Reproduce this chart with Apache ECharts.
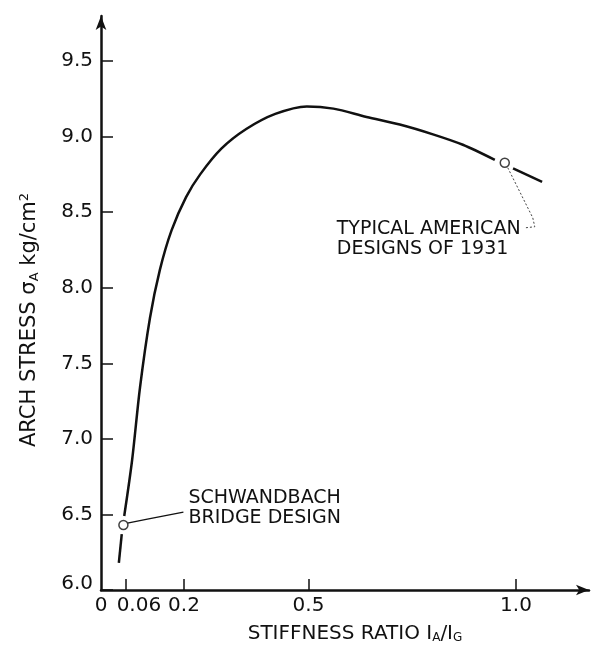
<!DOCTYPE html>
<html>
<head>
<meta charset="utf-8">
<script src="https://cdn.jsdelivr.net/npm/echarts@6/dist/echarts.min.js"></script>
<style>
  html, body { margin: 0; padding: 0; background: #fff; }
  #main { width: 597px; height: 649px; }
</style>
</head>
<body>
<div id="main"></div>
<script>
// values
const xTicks = [0.06, 0.2, 0.5, 1.0];
const xLabels = [0, 0.06, 0.2, 0.5, 1.0];
const yTicks = [6.0, 6.5, 7.0, 7.5, 8.0, 8.5, 9.0, 9.5];

// curve, split where it passes behind the two open circles
const stubPoints = [[0.043, 6.18], [0.050, 6.37]];
const mainPoints = [
  [0.056, 6.49], [0.075, 6.86], [0.094, 7.34], [0.118, 7.80], [0.142, 8.12],
  [0.170, 8.38], [0.205, 8.60], [0.239, 8.75], [0.290, 8.92], [0.350, 9.05],
  [0.420, 9.15], [0.496, 9.20], [0.560, 9.185], [0.640, 9.13], [0.720, 9.08],
  [0.800, 9.015], [0.872, 8.946], [0.949, 8.846]
];
const tailPoints = [[0.993, 8.79], [1.063, 8.70]];
const schwandbach = [0.054, 6.43];
const american = [0.973, 8.827];

const FONT = 'DejaVu Sans';
const INK = '#111';

const chart = echarts.init(document.getElementById('main'));

function lineSeries(data) {
  return {
    type: 'line', data: data, smooth: 0.3,
    showSymbol: false, lineStyle: { color: INK, width: 2.5 }, z: 2
  };
}

chart.setOption({
  animation: false,
  backgroundColor: '#fff',
  grid: { left: 101, right: 8, top: 16, bottom: 58 },
  xAxis: {
    type: 'value', min: 0, max: 1.176,
    splitLine: { show: false },
    axisLine: { lineStyle: { color: INK, width: 2.5 }, symbol: ['none', 'arrow'], symbolSize: [8, 13] },
    axisTick: { inside: true, length: 11, customValues: xTicks, lineStyle: { color: INK, width: 1.5 } },
    axisLabel: {
      customValues: xLabels, color: INK, fontSize: 20, fontFamily: FONT, margin: 6,
      formatter: v => v === 0 ? '0' : (v === 0.06 ? '{sh|0.06}' : v.toFixed(1)),
      rich: { sh: { fontSize: 20, fontFamily: FONT, color: INK, padding: [0, 0, 0, 26] } }
    },
    name: 'STIFFNESS RATIO I{s|A}/I{s|G}',
    nameLocation: 'middle', nameGap: 34,
    nameTextStyle: {
      color: INK, fontSize: 20, fontFamily: FONT, padding: [0, 0, 0, 20],
      rich: { s: { fontSize: 12, fontFamily: FONT, color: INK, verticalAlign: 'bottom', padding: [8, 0, 0, 0] } }
    }
  },
  yAxis: {
    type: 'value', min: 6, max: 9.798,
    splitLine: { show: false },
    axisLine: { lineStyle: { color: INK, width: 2.5 }, symbol: ['none', 'arrow'], symbolSize: [8, 14] },
    axisTick: { inside: true, length: 12, customValues: yTicks, lineStyle: { color: INK, width: 1.5 } },
    axisLabel: {
      customValues: yTicks, color: INK, fontSize: 20, fontFamily: FONT, margin: 8,
      formatter: v => v === 6 ? '{lift|6.0}' : v.toFixed(1),
      rich: { lift: { fontSize: 20, fontFamily: FONT, color: INK, padding: [0, 0, 12, 0] } }
    }
  },
  series: [
    lineSeries(stubPoints),
    lineSeries(mainPoints),
    lineSeries(tailPoints),
    {
      type: 'scatter', data: [schwandbach, american], symbol: 'circle', symbolSize: 9,
      itemStyle: { color: '#fff', borderColor: INK, borderWidth: 1.5 }, z: 3
    }
  ]
});

// annotations, placed relative to the circled points
const p1 = chart.convertToPixel({ gridIndex: 0 }, schwandbach);
const p2 = chart.convertToPixel({ gridIndex: 0 }, american);
const noteStyle = { fontSize: 19, fontFamily: FONT, fill: INK, lineHeight: 20, align: 'left', verticalAlign: 'middle' };

chart.setOption({
  graphic: [
    {
      type: 'polyline', silent: true,
      shape: { points: [[p1[0] + 4, p1[1] - 2], [p1[0] + 24, p1[1] - 6], [p1[0] + 60, p1[1] - 13]] },
      style: { stroke: INK, lineWidth: 1.3, fill: null }
    },
    {
      type: 'text', x: p1[0] + 65, y: p1[1] - 17, silent: true,
      style: Object.assign({ text: 'SCHWANDBACH\nBRIDGE DESIGN' }, noteStyle)
    },
    {
      type: 'polyline', silent: true,
      shape: { points: [[p2[0] + 3, p2[1] + 5], [p2[0] + 28, p2[1] + 55], [p2[0] + 30, p2[1] + 64], [p2[0] + 21, p2[1] + 65]] },
      style: { stroke: '#444', lineWidth: 1, fill: null, lineDash: [2, 2] }
    },
    {
      type: 'text', x: p2[0] - 168, y: p2[1] + 76, silent: true,
      style: Object.assign({ text: 'TYPICAL AMERICAN\nDESIGNS OF 1931' }, noteStyle)
    },
    {
      type: 'text', x: 30, y: 320, rotation: Math.PI / 2, silent: true,
      style: {
        text: 'ARCH STRESS σ{s|A} kg/cm{p|2}',
        fontSize: 21, fontFamily: FONT, fill: INK, align: 'center', verticalAlign: 'middle',
        rich: {
          s: { fontSize: 13, fontFamily: FONT, fill: INK, padding: [10, 0, 0, 0] },
          p: { fontSize: 13, fontFamily: FONT, fill: INK, padding: [0, 0, 10, 0] }
        }
      }
    }
  ]
});
</script>
</body>
</html>
